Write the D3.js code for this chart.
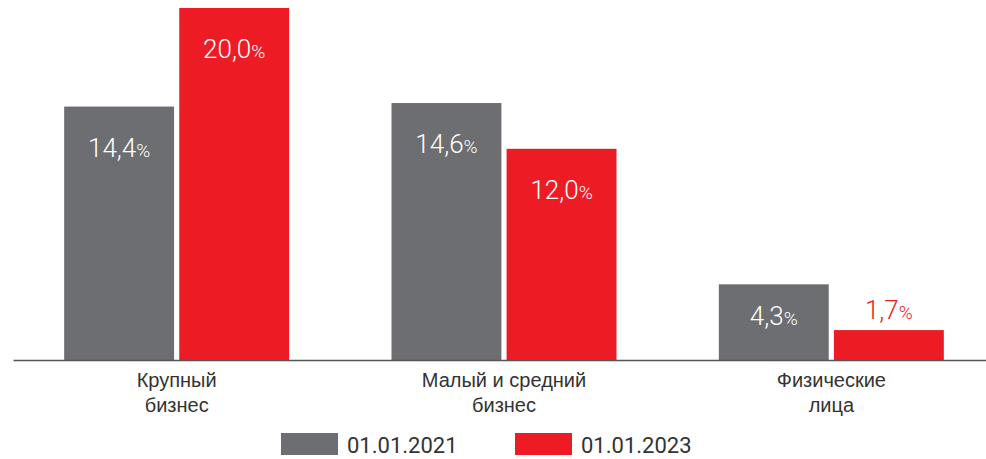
<!DOCTYPE html>
<html>
<head>
<meta charset="utf-8">
<script src="https://cdn.jsdelivr.net/npm/d3@7"></script>
<style>
  body { margin: 0; background: #fff; }
  svg { display: block; font-family: Roboto, "Noto Sans", sans-serif; }
</style>
</head>
<body>
<svg id="drawing_region"></svg>
<script>
// data
const categories = [["Крупный", "бизнес"], ["Малый и средний", "бизнес"], ["Физические", "лица"]];
const series = ["01.01.2021", "01.01.2023"];
const values2021 = [14.4, 14.6, 4.3];
const values2023 = [20.0, 12.0, 1.7];
const colors = ["#6d6e71", "#ed1c24"];

var width = 986;
var height = 459;
var baseY = 360;

var svg = d3.select('#drawing_region')
    .attr('width', width)
    .attr('height', height);

const catKeys = categories.map(d => d.join(" "));
const data = catKeys.map((c, i) => ({ cat: c, lines: categories[i], vals: [values2021[i], values2023[i]] }));

// scales
const x0 = d3.scaleBand()
    .domain(catKeys)
    .range([13, 995]);

const x1 = d3.scaleBand()
    .domain(series)
    .range([-112.5, 112.5])
    .paddingInner(0.045);

const y = d3.scaleLinear()
    .domain([0, 20])
    .range([baseY, 8]);

// bars
const groups = svg.selectAll('g.group').data(data).enter()
    .append('g')
    .attr('class', 'group')
    .attr('transform', d => `translate(${x0(d.cat) + x0.bandwidth() / 2}, 0)`);

groups.selectAll('rect')
    .data(d => d.vals.map((v, j) => ({ s: series[j], v: v, j: j })))
    .enter().append('rect')
    .attr('x', d => x1(d.s))
    .attr('y', d => y(d.v))
    .attr('width', x1.bandwidth())
    .attr('height', d => baseY - y(d.v))
    .attr('fill', d => colors[d.j]);

// value labels
const lbl = groups.selectAll('text.val')
    .data(d => d.vals.map((v, j) => ({ s: series[j], v: v, j: j })))
    .enter().append('text')
    .attr('class', 'val')
    .attr('text-anchor', 'middle')
    .attr('x', d => x1(d.s) + x1.bandwidth() / 2)
    .attr('y', d => {
        const h = baseY - y(d.v);
        if (h < 50) return y(d.v) - 11;
        return Math.min(y(d.v) + 50, baseY - 35);
    })
    .attr('fill', d => (baseY - y(d.v) < 50) ? colors[d.j] : '#fff')
    .style('font-weight', 300);

lbl.append('tspan')
    .style('font-size', '26px')
    .text(d => d3.format('.1f')(d.v).replace('.', ','));
lbl.append('tspan')
    .style('font-size', '19px')
    .text('%');

// axis
const xaxis = d3.axisBottom(x0)
    .tickSize(0)
    .tickSizeOuter(0)
    .tickFormat('');

const axisG = svg.append('g')
    .attr('transform', `translate(0, ${baseY})`)
    .call(xaxis);

axisG.select('.domain')
    .attr('stroke', '#555')
    .attr('stroke-width', 1.5);

axisG.selectAll('.tick text').remove();
axisG.selectAll('.tick').each(function(d, i) {
    const t = d3.select(this).append('text')
        .attr('text-anchor', 'middle')
        .attr('fill', '#333')
        .style('font-size', '20px');
    categories[i].forEach((line, k) => {
        t.append('tspan')
            .attr('x', 0)
            .attr('y', 27 + k * 25)
            .text(line);
    });
});

// legend
const legend = svg.append('g')
    .attr('transform', 'translate(281, 433)');

const legItems = legend.selectAll('g').data(series).enter()
    .append('g')
    .attr('transform', (d, i) => `translate(${i * 234}, 0)`);

legItems.append('rect')
    .attr('width', 57)
    .attr('height', 22)
    .attr('fill', (d, i) => colors[i]);

legItems.append('text')
    .attr('x', 66)
    .attr('y', 20)
    .attr('fill', '#333')
    .style('font-size', '22px')
    .text(d => d);
</script>
</body>
</html>
